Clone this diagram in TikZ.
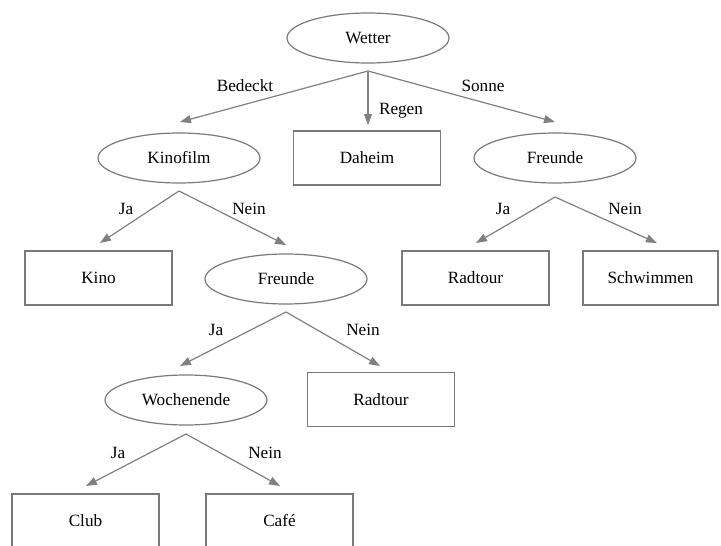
\documentclass[tikz,border=0pt]{standalone}
\usepackage{fontspec}
\setmainfont{Liberation Serif}
\usetikzlibrary{shapes.geometric,arrows.meta}
\begin{document}
\begin{tikzpicture}[x=1pt,y=-1pt,
  every node/.style={font=\fontsize{17.2}{20}\selectfont, text=black},
  dec/.style={ellipse, draw=gray!95!black, line width=1.2pt, minimum width=162pt, minimum height=50pt, inner sep=0pt},
  leaf/.style={rectangle, draw=gray!95!black, line width=1.2pt, minimum width=147pt, minimum height=54pt, inner sep=0pt},
  conn/.style={draw=gray, line width=1.2pt, -{Triangle[length=11pt,width=8pt]}},
  lbl/.style={inner sep=0pt}]
\useasboundingbox (0,0) rectangle (721,546);
% nodes
\node[dec] (wetter) at (368,38) {Wetter};
\node[dec] (kinofilm) at (179,158) {Kinofilm};
\node[leaf] (daheim) at (367,158) {Daheim};
\node[dec] (freundeA) at (555,158) {Freunde};
\node[leaf] (kino) at (98.5,278) {Kino};
\node[dec] (freundeB) at (286,279) {Freunde};
\node[leaf] (radtourA) at (475.5,278) {Radtour};
\node[leaf, minimum width=135pt] (schwimmen) at (650.5,278) {Schwimmen};
\node[dec] (wochenende) at (186,400) {Wochenende};
\node[leaf] (radtourB) at (381,399.5) {Radtour};
\node[leaf] (club) at (85.5,521) {Club};
\node[leaf] (cafe) at (279.5,521) {Café};
% connector start and end points
\coordinate (s1) at (368,71);
\coordinate (e1a) at (180,122);
\coordinate (e1b) at (368,125);
\coordinate (e1c) at (555,122);
\coordinate (s2) at (179,191);
\coordinate (e2a) at (100,243);
\coordinate (e2b) at (286,245);
\coordinate (s3) at (555,197);
\coordinate (e3a) at (476,243);
\coordinate (e3b) at (657,243);
\coordinate (s4) at (286,312);
\coordinate (e4a) at (180,366);
\coordinate (e4b) at (380,366);
\coordinate (s5) at (186,434);
\coordinate (e5a) at (86,486);
\coordinate (e5b) at (280,486);
% connectors
\draw[conn] (s1) -- (e1a);
\draw[conn] (s1) -- (e1b);
\draw[conn] (s1) -- (e1c);
\draw[conn] (s2) -- (e2a);
\draw[conn] (s2) -- (e2b);
\draw[conn] (s3) -- (e3a);
\draw[conn] (s3) -- (e3b);
\draw[conn] (s4) -- (e4a);
\draw[conn] (s4) -- (e4b);
\draw[conn] (s5) -- (e5a);
\draw[conn] (s5) -- (e5b);
% labels
\node[lbl] (l1) at (245,86) {Bedeckt};
\node[lbl] (l2) at (401,111) {Regen};
\node[lbl] (l3) at (483,86) {Sonne};
\node[lbl] (l4) at (126,209) {Ja};
\node[lbl] (l5) at (249,209) {Nein};
\node[lbl] (l6) at (503,209) {Ja};
\node[lbl] (l7) at (625,209) {Nein};
\node[lbl] (l8) at (216,330) {Ja};
\node[lbl] (l9) at (363,330) {Nein};
\node[lbl] (l10) at (118,453) {Ja};
\node[lbl] (l11) at (265,453) {Nein};
\end{tikzpicture}
\end{document}
